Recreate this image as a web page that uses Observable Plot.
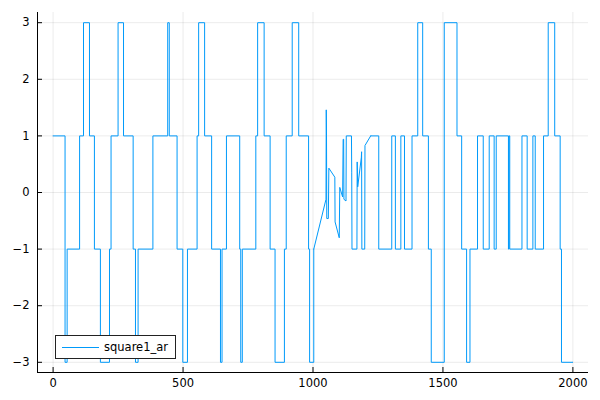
<!DOCTYPE html>
<html>
<head>
<meta charset="utf-8">
<script src="https://cdn.jsdelivr.net/npm/d3@7"></script>
<script src="https://cdn.jsdelivr.net/npm/@observablehq/plot@0.6"></script>
<style>
  html, body { margin: 0; padding: 0; background: #fff; }
  #wrap { position: relative; width: 600px; height: 400px; font-family: "DejaVu Sans", sans-serif; }
  #legend { position: absolute; left: 55px; top: 335px; width: 119px; height: 22px;
            border: 1px solid #222; background: #fff; box-sizing: content-box; }
  #legend .sw { position: absolute; left: 6px; top: 11px; width: 37px; height: 0; border-top: 1px solid #009AFA; }
  #legend .lb { position: absolute; left: 48px; top: 3px; font-size: 11.5px; color: #000; line-height: 16px; }
</style>
</head>
<body>
<div id="wrap"></div>
<script>
// Series name
const seriesName = "square1_ar";

// Step segment 1 (change points: time, level)
const stepT1 = [0, 46, 54, 102, 117, 140, 159, 182, 217, 223, 250, 271, 308, 317, 327, 384, 441, 447, 477, 499, 517, 554, 560, 583, 610, 644, 650, 667, 718, 722, 728, 780, 787, 812, 835, 854, 890, 897, 920, 945, 983, 987, 1003];
const stepV1 = [1, -3, -1, 1, 3, 1, -1, -3, -1, 1, 3, 1, -1, -3, -1, 1, 3, 1, -1, -3, -1, 1, 3, 1, -1, -3, -1, 1, -1, -3, -1, 1, 3, 1, -1, -3, -1, 1, 3, 1, -1, -3, -1];

// Irregular (linearly connected) segment
const irrT = [1003, 1050, 1051, 1052, 1053, 1059, 1061, 1084, 1085, 1101, 1103, 1114, 1116, 1118, 1119, 1127, 1128, 1148, 1149, 1150, 1169, 1170, 1172, 1186, 1187, 1188, 1199, 1200, 1222];
const irrV = [-1, -0.12, 1.46, 1.0, -0.46, -0.46, 0.43, 0.27, -0.52, -0.8, 0.09, -0.08, 0.94, 0.94, -0.12, -0.15, 1, 1, 0.36, -1, -1, 0.54, 0.1, 0.62, 0.72, -1, -1, 0.83, 1];

// Step segment 2
const stepT2 = [1222, 1253, 1303, 1317, 1338, 1352, 1381, 1403, 1422, 1444, 1455, 1505, 1554, 1572, 1591, 1604, 1633, 1655, 1678, 1697, 1705, 1752, 1754, 1757, 1804, 1824, 1846, 1855, 1887, 1905, 1930, 1951, 1956, 2000];
const stepV2 = [1, -1, 1, -1, 1, -1, 1, 3, 1, -1, -3, 3, 1, -1, -3, -1, 1, -1, 1, -1, 1, -1, 1, -1, 1, -1, 1, -1, 1, 3, 1, -1, -3, -3];

// Axes
const xTicks = [0, 500, 1000, 1500, 2000];
const yTicks = [-3, -2, -1, 0, 1, 2, 3];
const xDomain = [-60, 2060];
const yDomain = [-3.18, 3.18];

const color = "#009AFA";
const toRows = (ts, vs) => ts.map((t, i) => ({t, v: vs[i]}));
const seg1 = toRows(stepT1, stepV1);
const seg2 = toRows(irrT, irrV);
const seg3 = toRows(stepT2, stepV2);

const W = 600, H = 400, mL = 37, mR = 12, mT = 12, mB = 28;
const plotW = W - mL - mR, plotH = H - mT - mB;
const fmt = d3.format("d");

const chart = Plot.plot({
  width: W, height: H,
  marginLeft: mL, marginRight: mR, marginTop: mT, marginBottom: mB,
  style: {fontFamily: "DejaVu Sans, sans-serif", fontSize: "11.5px", color: "#000", background: "#fff"},
  x: {domain: xDomain},
  y: {domain: yDomain},
  marks: [
    Plot.ruleX(xTicks, {stroke: "#000", strokeOpacity: 0.08}),
    Plot.ruleY(yTicks, {stroke: "#000", strokeOpacity: 0.08}),
    Plot.line(seg1, {x: "t", y: "v", curve: "step-after", stroke: color, strokeWidth: 1}),
    Plot.line(seg2, {x: "t", y: "v", curve: "linear", stroke: color, strokeWidth: 1}),
    Plot.line(seg3, {x: "t", y: "v", curve: "step-after", stroke: color, strokeWidth: 1}),
    Plot.ruleX([xDomain[0]], {stroke: "#000"}),
    Plot.ruleY([yDomain[0]], {stroke: "#000"}),
    Plot.tickX(xTicks, {x: d => d, insetTop: plotH - 5, stroke: "#000"}),
    Plot.tickY(yTicks, {y: d => d, insetRight: plotW - 5, stroke: "#000"}),
    Plot.axisX(xTicks, {tickSize: 0, tickPadding: 6, label: null, tickFormat: fmt}),
    Plot.axisY(yTicks, {tickSize: 0, tickPadding: 8, label: null, tickFormat: fmt})
  ]
});

const wrap = document.getElementById("wrap");
wrap.appendChild(chart);
const legend = document.createElement("div");
legend.id = "legend";
legend.innerHTML = `<div class="sw"></div><div class="lb"></div>`;
legend.querySelector(".lb").textContent = seriesName;
wrap.appendChild(legend);
</script>
</body>
</html>
